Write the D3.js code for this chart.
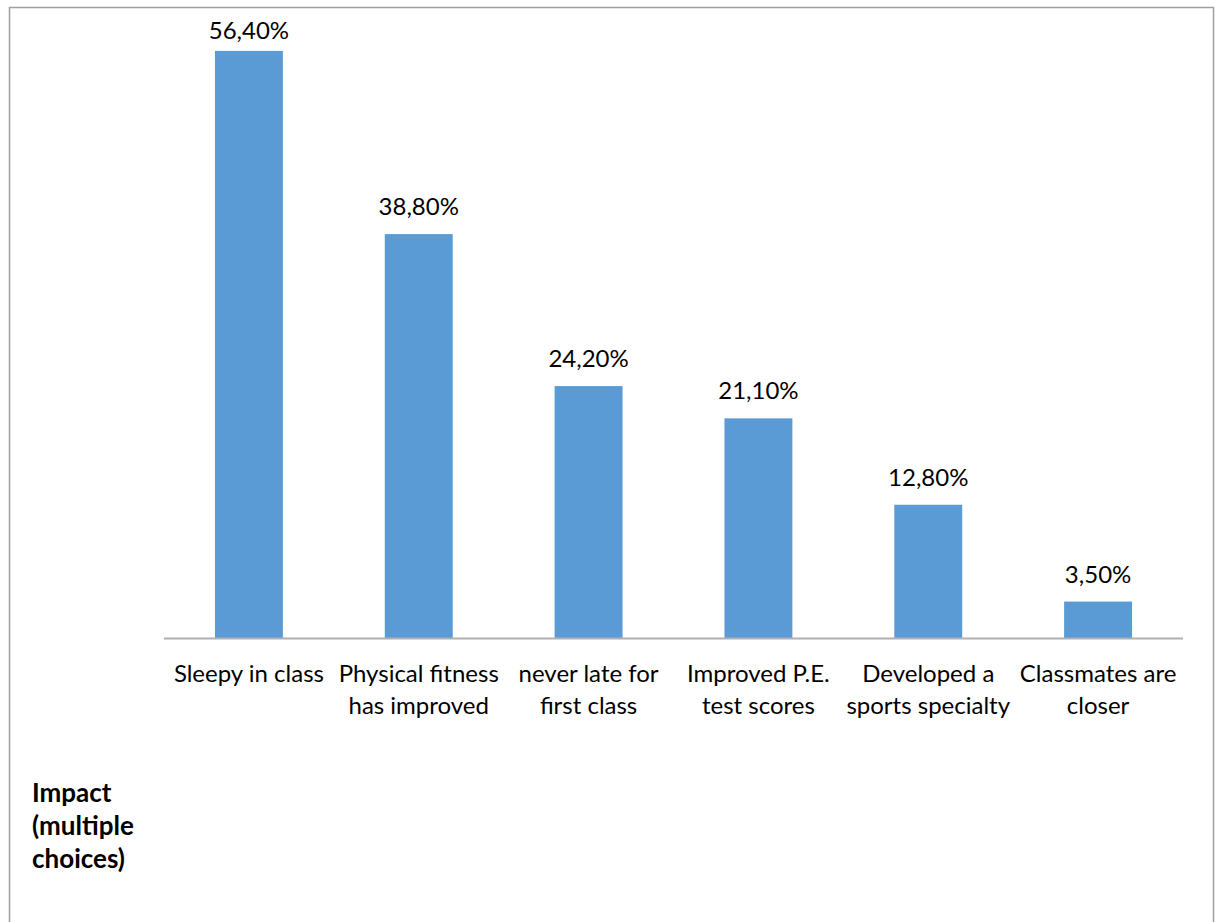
<!DOCTYPE html>
<html><head><meta charset="utf-8">
<script src="https://cdn.jsdelivr.net/npm/d3@7"></script>
<style>html,body{margin:0;padding:0;background:#fff;}svg{display:block;}</style>
</head><body>
<script>
const categories = [
  ["Sleepy in class"],
  ["Physical fitness", "has improved"],
  ["never late for", "first class"],
  ["Improved P.E.", "test scores"],
  ["Developed a", "sports specialty"],
  ["Classmates are", "closer"]
];
const values = [0.564, 0.388, 0.242, 0.211, 0.128, 0.035];
const valueLabels = ["56,40%", "38,80%", "24,20%", "21,10%", "12,80%", "3,50%"];
const axisTitle = ["Impact", "(multiple", "choices)"];

const W = 1221, H = 922;
const font = "Lato, 'Open Sans', sans-serif";
const svg = d3.select("body").append("svg").attr("width", W).attr("height", H);

svg.append("rect").attr("x", 9.5).attr("y", 7.5).attr("width", 1204).attr("height", 940)
  .attr("fill", "#fff").attr("stroke", "#a0a0a0").attr("stroke-width", 1.5);

const x = d3.scaleBand().domain(d3.range(categories.length)).range([164, 1183]).paddingInner(0.6).paddingOuter(0.3);
const y = d3.scaleLinear().domain([0, 0.6]).range([638, 13.4]);

svg.selectAll("rect.bar").data(values).join("rect").attr("class", "bar")
  .attr("x", (d, i) => x(i)).attr("width", x.bandwidth())
  .attr("y", d => y(d)).attr("height", d => y(0) - y(d))
  .attr("fill", "#5b9bd5");

svg.append("line").attr("x1", 164).attr("x2", 1183).attr("y1", 638.5).attr("y2", 638.5)
  .attr("stroke", "#b0b0b0").attr("stroke-width", 2);

svg.selectAll("text.val").data(values).join("text").attr("class", "val")
  .attr("x", (d, i) => x(i) + x.bandwidth() / 2)
  .attr("y", d => Math.max(y(d) - 19, 39))
  .attr("text-anchor", "middle").attr("font-family", font).attr("font-size", 24)
  .attr("fill", "#000").text((d, i) => valueLabels[i]);

const cat = svg.selectAll("text.cat").data(categories).join("text").attr("class", "cat")
  .attr("text-anchor", "middle").attr("font-family", font).attr("font-size", 24).attr("fill", "#000");
cat.each(function (lines, i) {
  d3.select(this).selectAll("tspan").data(lines).join("tspan")
    .attr("x", x(i) + x.bandwidth() / 2).attr("y", (l, j) => 682 + j * 32).text(l => l);
});

svg.append("text").attr("font-family", font).attr("font-size", 26).attr("font-weight", "bold")
  .selectAll("tspan").data(axisTitle).join("tspan")
  .attr("x", 32).attr("y", (l, j) => 802 + j * 33).text(l => l);
</script>
</body></html>
